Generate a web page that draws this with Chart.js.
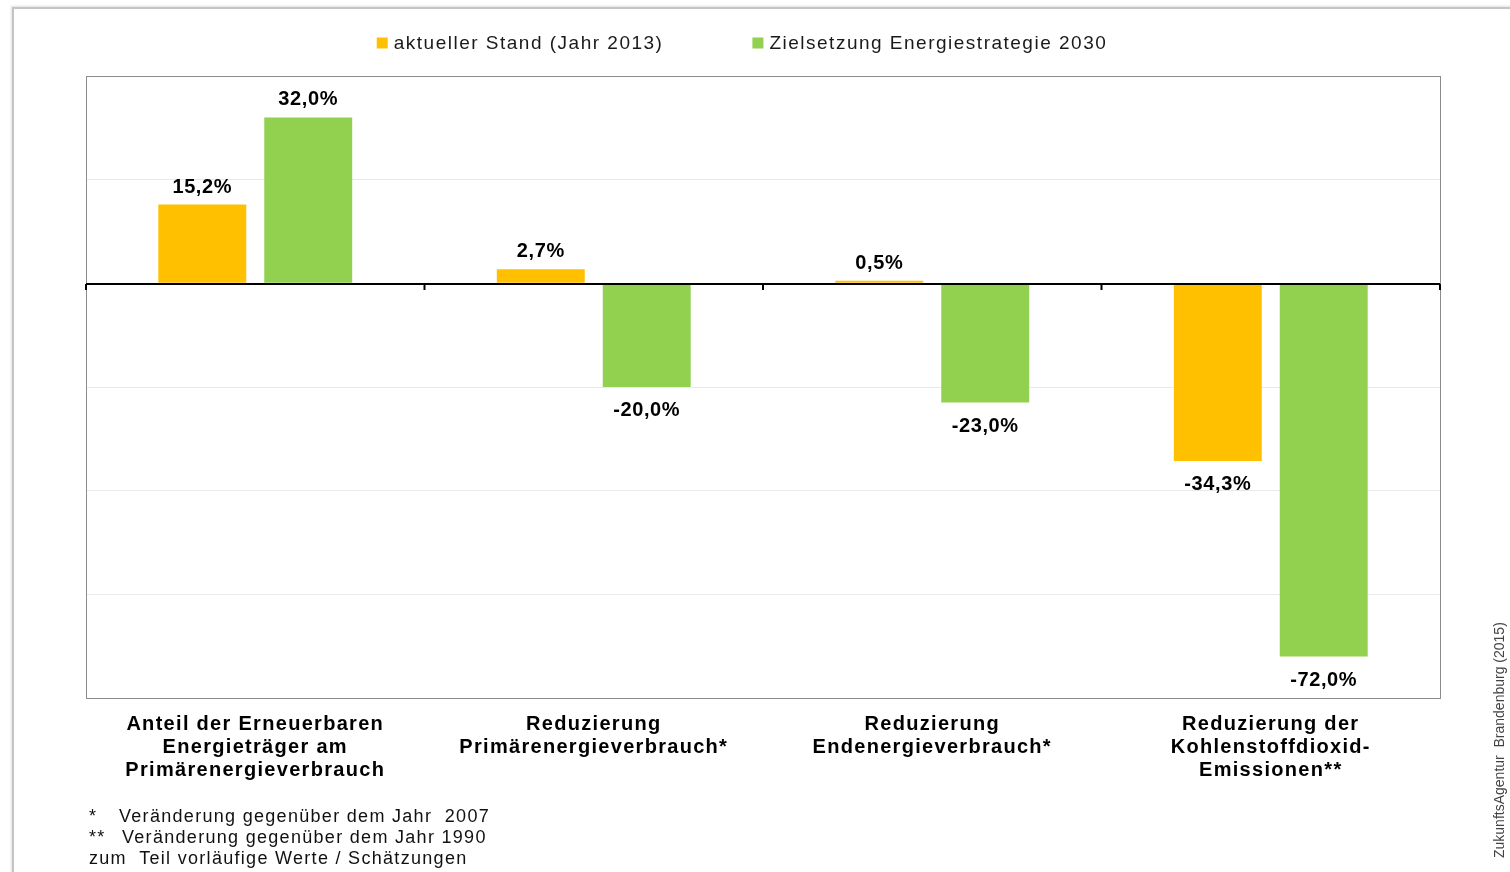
<!DOCTYPE html>
<html>
<head>
<meta charset="utf-8">
<script src="https://cdn.jsdelivr.net/npm/chart.js@4/dist/chart.umd.min.js"></script>
<style>
  html, body { margin: 0; padding: 0; background: #fff; overflow: hidden; width: 1510px; height: 872px; }
  #frame { position: absolute; left: 12px; top: 7px; width: 1700px; height: 1000px;
           border-left: 2px solid #c4c4c4; border-top: 2px solid #c4c4c4;
           box-shadow: -1px -1px 2px #e0e0e0; }
  #wrap { position: absolute; left: 0; top: 0; width: 1510px; height: 872px; }
  .note { position: absolute; font-family: "Liberation Sans", Arial, sans-serif; font-size: 18px;
          letter-spacing: 1.3px; color: #111; white-space: pre; line-height: 21px; }
</style>
</head>
<body>
<div id="frame"></div>
<div id="wrap"><canvas id="c" width="1510" height="872"></canvas></div>
<div class="note" style="left:89px; top:806px;">*</div>
<div class="note" style="left:119px; top:806px;">Veränderung gegenüber dem Jahr  2007</div>
<div class="note" style="left:89px; top:827px;">**</div>
<div class="note" style="left:122px; top:827px;">Veränderung gegenüber dem Jahr 1990</div>
<div class="note" style="left:89px; top:848px;">zum  Teil vorläufige Werte / Schätzungen</div>
<script>
const categories = [
  ["Anteil der Erneuerbaren", "Energieträger am", "Primärenergieverbrauch"],
  ["Reduzierung", "Primärenergieverbrauch*"],
  ["Reduzierung", "Endenergieverbrauch*"],
  ["Reduzierung der", "Kohlenstoffdioxid-", "Emissionen**"]
];
const seriesNames = ["aktueller Stand (Jahr 2013)", "Zielsetzung Energiestrategie 2030"];
const currentValues = [15.2, 2.7, 0.5, -34.3];
const targetValues = [32.0, -20.0, -23.0, -72.0];
const yTicks = [40, 20, 0, -20, -40, -60, -80];
const sourceText = "ZukunftsAgentur  Brandenburg (2015)";

const FONT = '"Liberation Sans", Arial, sans-serif';
const fmt = v => v.toFixed(1).replace('.', ',') + '%';

const decorPlugin = {
  id: 'decor',
  beforeDraw(chart) {
    chart.ctx.letterSpacing = '1.3px';
  },
  afterDatasetsDraw(chart) {
    const ctx = chart.ctx;
    const a = chart.chartArea;
    const y = chart.scales.y, x = chart.scales.x;
    ctx.save();
    ctx.strokeStyle = '#8c8c8c';
    ctx.lineWidth = 1;
    ctx.strokeRect(Math.round(a.left) + 0.5, Math.round(a.top) + 0.5, Math.round(a.right - a.left), Math.round(a.bottom - a.top));
    const y0 = Math.round(y.getPixelForValue(0)) + 1;
    ctx.strokeStyle = '#000';
    ctx.lineWidth = 2.2;
    ctx.beginPath();
    ctx.moveTo(a.left, y0); ctx.lineTo(a.right, y0);
    ctx.stroke();
    const n = categories.length;
    const step = x.getPixelForValue(1) - x.getPixelForValue(0);
    ctx.lineWidth = 2;
    for (let i = 0; i <= n; i++) {
      const px = i < n ? x.getPixelForValue(i) - step / 2 : x.getPixelForValue(n - 1) + step / 2;
      ctx.beginPath();
      ctx.moveTo(px, y0); ctx.lineTo(px, y0 + 6);
      ctx.stroke();
    }
    ctx.letterSpacing = '0.6px';
    ctx.font = 'bold 20px ' + FONT;
    ctx.fillStyle = '#000';
    ctx.textAlign = 'center';
    ctx.textBaseline = 'alphabetic';
    chart.data.datasets.forEach((ds, di) => {
      const meta = chart.getDatasetMeta(di);
      meta.data.forEach((bar, i) => {
        const v = ds.data[i];
        const ty = v >= 0 ? bar.y - 12 : bar.y + 29;
        ctx.fillText(fmt(v), bar.x, ty);
      });
    });
    ctx.restore();
  },
  afterDraw(chart) {
    const ctx = chart.ctx;
    ctx.save();
    ctx.letterSpacing = '1.5px';
    ctx.font = '19px ' + FONT;
    ctx.textBaseline = 'middle';
    ctx.textAlign = 'left';
    const box = 11, gapBox = 6, gapItems = 89;
    const widths = chart.data.datasets.map(d => ctx.measureText(d.label).width);
    const total = widths.reduce((s, w) => s + box + gapBox + w, 0) + gapItems * (widths.length - 1);
    let lx = 742 - total / 2;
    const ly = 43;
    chart.data.datasets.forEach((d, i) => {
      ctx.fillStyle = d.backgroundColor;
      ctx.fillRect(lx, ly - box / 2, box, box);
      ctx.fillStyle = '#1a1a1a';
      ctx.fillText(d.label, lx + box + gapBox, ly + 1);
      lx += box + gapBox + widths[i] + gapItems;
    });
    ctx.letterSpacing = '0px';
    ctx.font = '14px ' + FONT;
    ctx.fillStyle = '#444';
    ctx.translate(1500, 858);
    ctx.rotate(-Math.PI / 2);
    ctx.textBaseline = 'middle';
    ctx.fillText(sourceText, 0, 0);
    ctx.restore();
  }
};

new Chart(document.getElementById('c'), {
  type: 'bar',
  data: {
    labels: categories,
    datasets: [
      { label: seriesNames[0], data: currentValues, backgroundColor: '#FFC000', borderWidth: 0 },
      { label: seriesNames[1], data: targetValues, backgroundColor: '#92D050', borderWidth: 0 }
    ]
  },
  options: {
    responsive: false,
    animation: false,
    devicePixelRatio: 1,
    categoryPercentage: 0.626,
    barPercentage: 0.83,
    layout: { padding: { top: 76, right: 70, left: 0, bottom: 0 } },
    plugins: { legend: { display: false }, tooltip: { enabled: false } },
    scales: {
      x: {
        grid: { display: false, drawTicks: false },
        border: { display: false },
        ticks: {
          padding: 15,
          color: '#000',
          font: { family: FONT, size: 20, weight: 'bold', lineHeight: 1.15 },
          maxRotation: 0, minRotation: 0, autoSkip: false
        },
        afterFit(scale) { scale.height = 174; }
      },
      y: {
        min: yTicks[yTicks.length - 1],
        max: yTicks[0],
        afterBuildTicks(scale) { scale.ticks = yTicks.map(v => ({ value: v })); },
        ticks: { display: false },
        grid: { color: '#e9e9e9', lineWidth: 1, drawTicks: false },
        border: { display: false },
        afterFit(scale) { scale.width = 86; }
      }
    }
  },
  plugins: [decorPlugin]
});
</script>
</body>
</html>
